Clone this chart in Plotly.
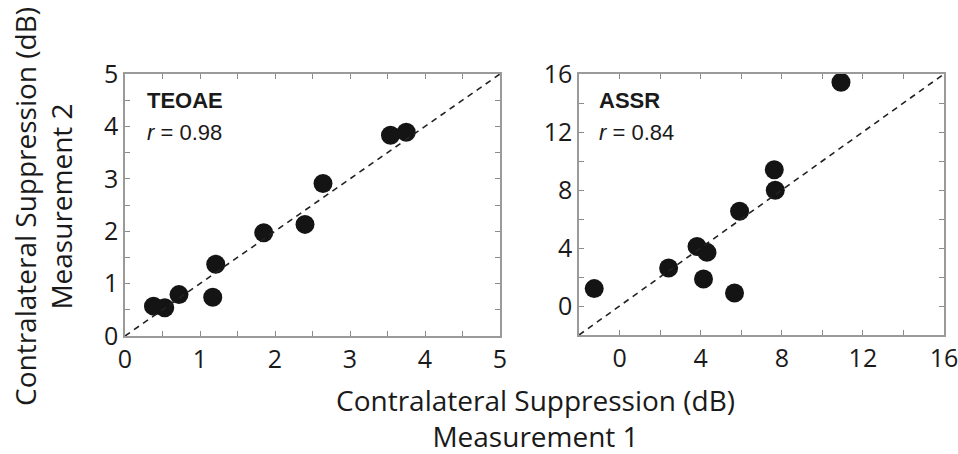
import plotly.graph_objects as go

# TEOAE panel data (Measurement 1, Measurement 2)
teoae_m1 = [0.38, 0.53, 0.72, 1.17, 1.21, 1.85, 2.40, 2.64, 3.54, 3.75]
teoae_m2 = [0.57, 0.54, 0.79, 0.74, 1.37, 1.97, 2.13, 2.91, 3.83, 3.89]
teoae_r = "0.98"

# ASSR panel data
assr_m1 = [-1.25, 2.42, 3.82, 4.31, 4.14, 5.67, 5.92, 7.63, 7.68, 10.92]
assr_m2 = [1.20, 2.62, 4.11, 3.70, 1.86, 0.90, 6.53, 9.40, 7.98, 15.43]
assr_r = "0.84"

teoae_range = [0, 5]
assr_range = [-2, 16]
teoae_ticks = [0, 1, 2, 3, 4, 5]
assr_ticks = [0, 4, 8, 12, 16]

W, H = 958, 454
TICKFONT = dict(family="Open Sans", size=25, color="#1a1a1a")
TITLEFONT = dict(family="Open Sans", size=28, color="#1a1a1a")
LABFONT = "Liberation Sans, Arial"

fig = go.Figure()

def px_dom_x(a, b):
    return [a / W, b / W]

def px_dom_y(top, bottom):
    return [(H - bottom) / H, (H - top) / H]

fig.add_trace(go.Scatter(x=teoae_m1, y=teoae_m2, mode="markers",
                         marker=dict(size=19, color="#141414"),
                         xaxis="x", yaxis="y", showlegend=False))
fig.add_trace(go.Scatter(x=teoae_range, y=teoae_range, mode="lines",
                         line=dict(color="#222", width=1.6, dash="6px,5px"),
                         xaxis="x", yaxis="y", showlegend=False))
fig.add_trace(go.Scatter(x=assr_m1, y=assr_m2, mode="markers",
                         marker=dict(size=19, color="#141414"),
                         xaxis="x2", yaxis="y2", showlegend=False))
fig.add_trace(go.Scatter(x=assr_range, y=assr_range, mode="lines",
                         line=dict(color="#222", width=1.6, dash="6px,5px"),
                         xaxis="x2", yaxis="y2", showlegend=False))

def axis(rng, tickvals, dom, minor_dtick, anchor):
    return dict(range=rng, domain=dom, anchor=anchor, automargin=False,
                tickmode="array", tickvals=tickvals,
                ticklabeloverflow="allow",
                ticks="inside", ticklen=5, tickwidth=1, tickcolor="#8a8a8a",
                minor=dict(ticks="inside", ticklen=5, tickwidth=1,
                           tickcolor="#8a8a8a", dtick=minor_dtick,
                           tick0=rng[0], showgrid=False),
                mirror="allticks", showline=True, linecolor="#9a9a9a",
                linewidth=1.5, showgrid=False, zeroline=False,
                tickfont=TICKFONT, fixedrange=True)

fig.update_layout(
    width=W, height=H,
    margin=dict(l=0, r=0, t=0, b=0, pad=0, autoexpand=False),
    plot_bgcolor="white", paper_bgcolor="white",
    xaxis=axis(teoae_range, teoae_ticks, px_dom_x(125, 500), 0.5, "y"),
    yaxis=axis(teoae_range, teoae_ticks, px_dom_y(74, 336), 0.5, "x"),
    xaxis2=axis(assr_range, assr_ticks, px_dom_x(579, 944), 2, "y2"),
    yaxis2=axis(assr_range, assr_ticks, px_dom_y(74, 335), 2, "x2"),
)

def lab(text, x, y, size=22):
    return dict(text=text, xref="paper", yref="paper",
                x=x / W, y=(H - y) / H, xanchor="left", yanchor="middle",
                showarrow=False, font=dict(family=LABFONT, size=size, color="#1a1a1a"))

annotations = [
    lab("<b>TEOAE</b>", 145, 100),
    lab("<i>r</i> = " + teoae_r, 145, 133),
    lab("<b>ASSR</b>", 597, 100),
    lab("<i>r</i> = " + assr_r, 597, 133),
    dict(text="Contralateral Suppression (dB)<br>Measurement 1",
         xref="paper", yref="paper", x=535 / W, y=(H - 418) / H,
         xanchor="center", yanchor="middle", showarrow=False,
         font=TITLEFONT),
    dict(text="Contralateral Suppression (dB)<br>Measurement 2",
         xref="paper", yref="paper", x=43 / W, y=(H - 207) / H,
         xanchor="center", yanchor="middle", showarrow=False, textangle=-90,
         font=TITLEFONT),
]
fig.update_layout(annotations=annotations)

fig.write_html("out.html")
